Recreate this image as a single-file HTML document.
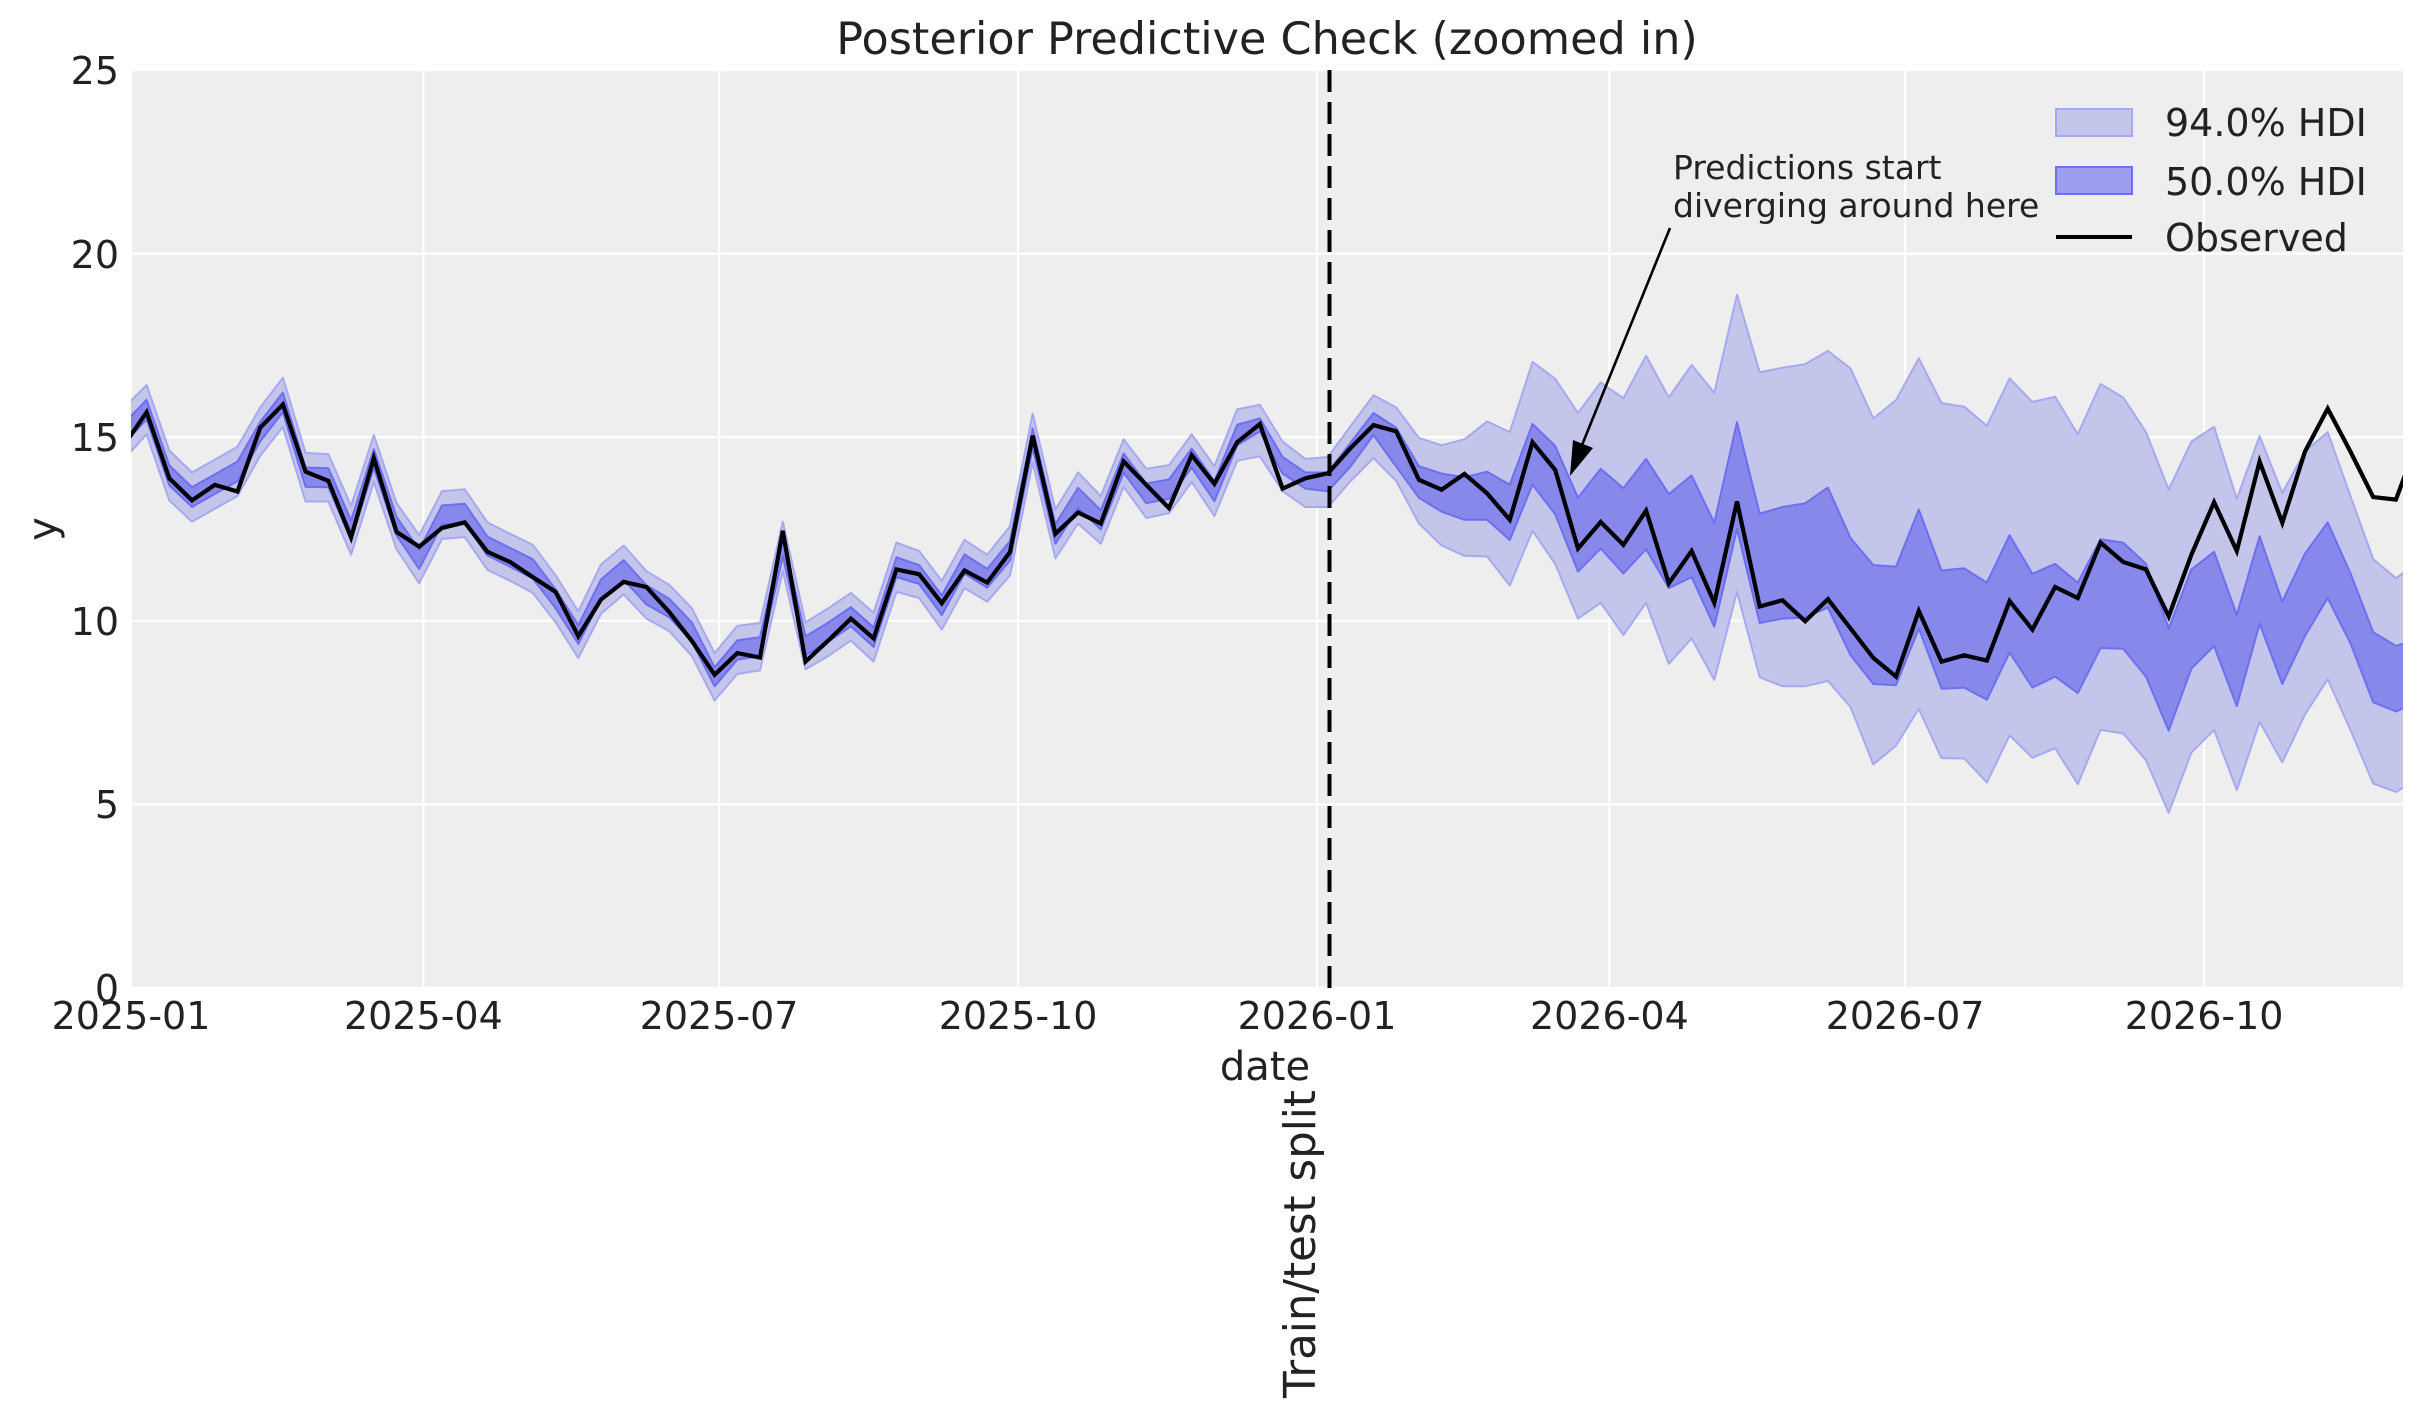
<!DOCTYPE html>
<html><head><meta charset="utf-8"><style>
html,body{margin:0;padding:0;background:#fff;}
svg{display:block;}
text{font-family:"DejaVu Sans","Liberation Sans",sans-serif;fill:#222;}
</style></head><body>
<svg id="s" width="2423" height="1424" viewBox="0 0 2423 1424" xmlns="http://www.w3.org/2000/svg">
<defs><clipPath id="c"><rect x="131" y="70" width="2272" height="918"/></clipPath></defs>
<rect x="131" y="70" width="2272" height="918" fill="#eeeeee"/>
<g stroke="#ffffff" stroke-width="2.2">
<line x1="131" y1="988" x2="2403" y2="988"/><line x1="131" y1="804.4" x2="2403" y2="804.4"/>
<line x1="131" y1="620.8" x2="2403" y2="620.8"/><line x1="131" y1="437.2" x2="2403" y2="437.2"/>
<line x1="131" y1="253.6" x2="2403" y2="253.6"/><line x1="131" y1="70" x2="2403" y2="70"/>
<line x1="131" y1="70" x2="131" y2="988"/><line x1="423.4" y1="70" x2="423.4" y2="988"/>
<line x1="719.1" y1="70" x2="719.1" y2="988"/><line x1="1018.1" y1="70" x2="1018.1" y2="988"/>
<line x1="1317" y1="70" x2="1317" y2="988"/><line x1="1609.4" y1="70" x2="1609.4" y2="988"/>
<line x1="1905.1" y1="70" x2="1905.1" y2="988"/><line x1="2204.1" y1="70" x2="2204.1" y2="988"/>
</g>
<g id="data" clip-path="url(#c)"></g>
<line x1="1329.5" y1="70" x2="1329.5" y2="988" stroke="#000" stroke-width="4" stroke-dasharray="22,10"/>
<line x1="1670" y1="228" x2="1580" y2="450" stroke="#000" stroke-width="2.6"/>
<polygon points="1570,476 1573,440 1593,448" fill="#000"/>
<text x="1673" y="179" font-size="33">Predictions start</text>
<text x="1673" y="217" font-size="33">diverging around here</text>
<rect x="2056" y="109" width="76" height="27" fill="#c4c5eb" stroke="#a7a9f0" stroke-width="2"/>
<rect x="2056" y="167" width="76" height="27" fill="#9c9ded" stroke="#6d6ff0" stroke-width="2"/>
<line x1="2056" y1="237" x2="2132" y2="237" stroke="#000" stroke-width="4"/>
<text x="2165" y="136" font-size="38">94.0% HDI</text>
<text x="2165" y="195" font-size="38">50.0% HDI</text>
<text x="2165" y="251" font-size="38">Observed</text>
<text x="1267" y="54" font-size="44.5" text-anchor="middle">Posterior Predictive Check (zoomed in)</text>
<g font-size="38" text-anchor="end">
<text x="119" y="1002">0</text><text x="119" y="818">5</text><text x="119" y="635">10</text>
<text x="119" y="451">15</text><text x="119" y="268">20</text><text x="119" y="84">25</text>
</g>
<g font-size="38" text-anchor="middle">
<text x="131" y="1029">2025-01</text><text x="423.4" y="1029">2025-04</text><text x="719.1" y="1029">2025-07</text>
<text x="1018.1" y="1029">2025-10</text><text x="1317" y="1029">2026-01</text><text x="1609.4" y="1029">2026-04</text>
<text x="1905.1" y="1029">2026-07</text><text x="2204.1" y="1029">2026-10</text>
</g>
<text x="1265" y="1080" font-size="40" text-anchor="middle">date</text>
<text transform="translate(56,529) rotate(-90)" font-size="40" text-anchor="middle">y</text>
<text transform="translate(1315,1244) rotate(-90)" font-size="43.5" text-anchor="middle">Train/test split</text>
</svg>
<script>
var obs=[14.78,15.68,13.88,13.28,13.70,13.52,15.26,15.89,14.06,13.81,12.27,14.43,12.42,12.02,12.53,12.68,11.88,11.60,11.19,10.79,9.58,10.58,11.06,10.92,10.24,9.45,
8.53,9.12,9.00,12.45,8.89,9.46,10.06,9.52,11.40,11.27,10.48,11.37,11.04,11.87,15.04,12.37,12.95,12.65,14.34,13.70,13.07,14.51,13.73,14.86,15.36,
13.60,13.88,14.02,14.71,15.33,15.16,13.84,13.57,14.00,13.47,12.75,14.86,14.11,11.97,12.69,12.07,13.00,11.02,11.90,10.49,13.25,10.39,10.56,9.99,10.59,
9.79,8.99,8.48,10.27,8.89,9.06,8.92,10.54,9.76,10.92,10.62,12.13,11.60,11.40,10.12,11.80,13.23,11.90,14.34,12.67,14.61,15.78,14.61,13.37,13.30,14.96];
var hi=[15.8,16.42,14.64,14.04,14.39,14.74,15.81,16.62,14.57,14.54,13.13,15.06,13.21,12.33,13.53,13.58,12.68,12.37,12.07,11.24,10.26,11.53,12.05,11.35,10.98,10.34,
9.12,9.86,9.94,12.70,9.96,10.34,10.76,10.22,12.13,11.90,11.09,12.20,11.80,12.57,15.64,13.03,14.04,13.40,14.94,14.14,14.24,15.08,14.21,15.76,15.88,
14.88,14.41,14.46,15.31,16.14,15.81,14.98,14.78,14.94,15.43,15.14,17.05,16.59,15.66,16.49,16.06,17.22,16.08,16.97,16.21,18.88,16.77,16.89,16.99,17.35,
16.87,15.51,16.01,17.15,15.93,15.83,15.31,16.60,15.96,16.10,15.08,16.45,16.08,15.14,13.57,14.88,15.28,13.32,15.03,13.48,14.61,15.14,13.40,11.68,11.16,11.6];
var lo=[14.4,15.08,13.28,12.70,13.05,13.40,14.49,15.28,13.25,13.25,11.80,13.78,11.95,11.02,12.23,12.28,11.39,11.09,10.76,9.96,8.99,10.19,10.72,10.06,9.72,9.04,
7.83,8.55,8.65,11.35,8.68,9.04,9.46,8.89,10.79,10.62,9.76,10.89,10.52,11.24,14.31,11.70,12.65,12.10,13.65,12.80,12.93,13.78,12.85,14.36,14.48,
13.53,13.10,13.10,13.81,14.43,13.81,12.65,12.05,11.77,11.75,10.96,12.45,11.55,10.06,10.49,9.61,10.49,8.83,9.52,8.39,10.79,8.46,8.22,8.22,8.36,
7.65,6.09,6.60,7.60,6.26,6.25,5.60,6.88,6.27,6.53,5.55,7.03,6.93,6.20,4.77,6.41,7.03,5.39,7.25,6.15,7.45,8.41,7.03,5.57,5.34,5.7];
var hi50t=[15.51,14.46,14.04,14.04,14.86,15.66,15.26,14.21,14.01,13.91,14.06,13.71,15.36,14.76,13.35,14.14,13.61,14.41,13.45,13.96,12.67,15.41,12.92,13.10,13.20,13.63,
12.25,11.52,11.47,13.03,11.37,11.43,11.04,12.33,11.28,11.55,11.04,12.22,12.13,11.55,9.79,11.40,11.88,10.16,12.30,10.52,11.83,12.68,11.30,9.69,9.32,9.5];
var lo50t=[15.16,14.01,13.60,13.53,14.21,15.06,14.20,13.35,12.97,12.75,12.75,12.20,13.71,12.90,11.34,11.97,11.29,11.95,10.89,11.19,9.84,12.50,9.94,10.06,10.09,10.36,
9.06,8.28,8.25,9.79,8.15,8.18,7.85,9.14,8.18,8.48,8.03,9.26,9.24,8.48,7.01,8.70,9.31,7.68,9.92,8.28,9.59,10.62,9.39,7.78,7.53,7.8];
var hi50=[],lo50=[];
for(var i=0;i<obs.length;i++){var k=i-1;
 if(k>=49){hi50.push(hi50t[k-49]);lo50.push(lo50t[k-49]);}
 else{var c=(hi[i]+lo[i])/2,h=(hi[i]-lo[i])/2*0.4;hi50.push(c+h);lo50.push(c-h);}}
function X(i){return (146.6+22.72*(i-1)).toFixed(1);}
function Y(v){return (988-36.72*v).toFixed(1);}
function band(a,b){var p=[];for(var i=0;i<a.length;i++)p.push(X(i)+","+Y(a[i]));for(var i=b.length-1;i>=0;i--)p.push(X(i)+","+Y(b[i]));return p.join(" ");}
function line(a){var p=[];for(var i=0;i<a.length;i++)p.push(X(i)+","+Y(a[i]));return p.join(" ");}
var g=document.getElementById("data");
g.innerHTML='<polygon points="'+band(hi,lo)+'" fill="#c4c5eb" stroke="#a7a9f0" stroke-width="2" stroke-linejoin="round"/>'+
'<polygon points="'+band(hi50,lo50)+'" fill="#8788ea" stroke="#6d6ff0" stroke-width="2" stroke-linejoin="round"/>'+
'<polyline points="'+line(obs)+'" fill="none" stroke="#000" stroke-width="4.2" stroke-linejoin="miter"/>';
</script>
</body></html>
